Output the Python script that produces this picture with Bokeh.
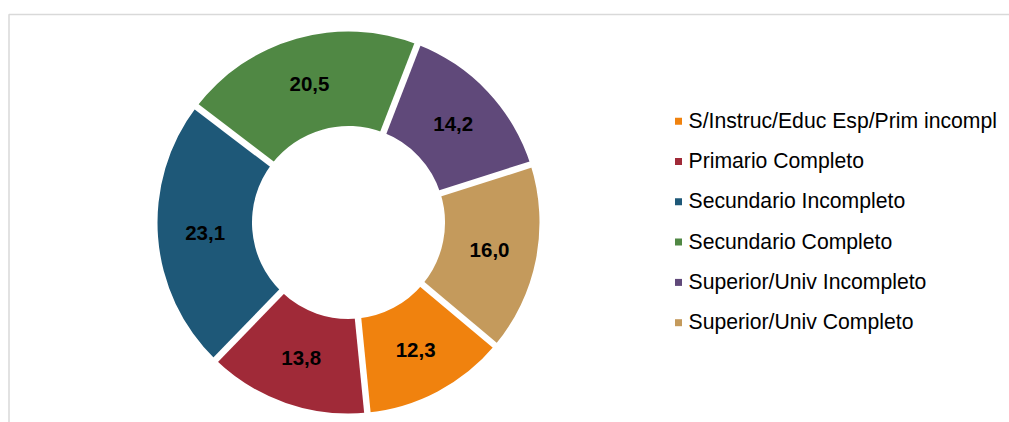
import math
from bokeh.plotting import figure
from bokeh.models import Range1d, ColumnDataSource
from bokeh.core.properties import value
from bokeh.embed import file_html
from bokeh.resources import INLINE

categories = [
    "S/Instruc/Educ Esp/Prim incompl",
    "Primario Completo",
    "Secundario Incompleto",
    "Secundario Completo",
    "Superior/Univ Incompleto",
    "Superior/Univ Completo",
]
values = [12.3, 13.8, 23.1, 20.5, 14.2, 16.0]
colors = ["#F0820E", "#A02A38", "#1E5878", "#508844", "#60497A", "#C49A5C"]

W, H = 1009, 422
p = figure(width=W, height=H, output_backend="svg", toolbar_location=None,
           x_range=Range1d(0, W), y_range=Range1d(0, H),
           min_border=0, min_border_left=0, min_border_right=0,
           min_border_top=0, min_border_bottom=0)
p.axis.visible = False
p.grid.visible = False
p.outline_line_color = None
p.background_fill_color = "white"
p.border_fill_color = "white"

# chart frame (top and left edges visible)
p.line([8.5, 8.5, W], [0, 408, 408], line_color="#d9d9d9", line_width=1.5)

cx, cy = 348.0, 200.0
r_in, r_out = 96.5, 191.0
first_angle = 130.0  # degrees clockwise from 12 o'clock
total = sum(values)

starts, ends, lx, ly, labels, bounds = [], [], [], [], [], []
cum = 0.0
for v in values:
    ta = first_angle + 360.0 * cum / total
    tb = first_angle + 360.0 * (cum + v) / total
    starts.append(math.radians(90 - ta))
    ends.append(math.radians(90 - tb))
    tm = math.radians((ta + tb) / 2)
    rm = (r_in + r_out) / 2
    lx.append(cx + rm * math.sin(tm))
    ly.append(cy + rm * math.cos(tm))
    labels.append(f"{v:.1f}".replace(".", ","))
    bounds.append(math.radians(ta))
    cum += v

src = ColumnDataSource(dict(x=[cx] * len(values), y=[cy] * len(values),
                            s=starts, e=ends, c=colors))
p.annular_wedge(x="x", y="y", inner_radius=r_in, outer_radius=r_out,
                start_angle="s", end_angle="e", direction="clock",
                fill_color="c", line_color=None, source=src)

# white separators between slices
p.segment(x0=[cx] * len(bounds), y0=[cy] * len(bounds),
          x1=[cx + (r_out + 6) * math.sin(b) for b in bounds],
          y1=[cy + (r_out + 6) * math.cos(b) for b in bounds],
          line_color="white", line_width=6.5, line_cap="butt")

p.text(x=lx, y=ly, text=labels, text_align="center", text_baseline="middle",
       text_font=value("Liberation Sans"), text_font_style="bold",
       text_font_size="20.5px", text_color="black")

# legend
lg_x, lg_y0, lg_dy = 678.0, 301.3, 40.3
p.scatter(x=[lg_x] * len(categories),
          y=[lg_y0 - i * lg_dy for i in range(len(categories))],
          marker="square", size=7, fill_color=colors, line_color=None)
p.text(x=[lg_x + 10] * len(categories),
       y=[lg_y0 + 1.0 - i * lg_dy for i in range(len(categories))],
       text=categories, text_align="left", text_baseline="middle",
       text_font=value("Liberation Sans"), text_font_size="21.2px",
       text_color="black")

open("out.html", "w").write(file_html(p, INLINE))
